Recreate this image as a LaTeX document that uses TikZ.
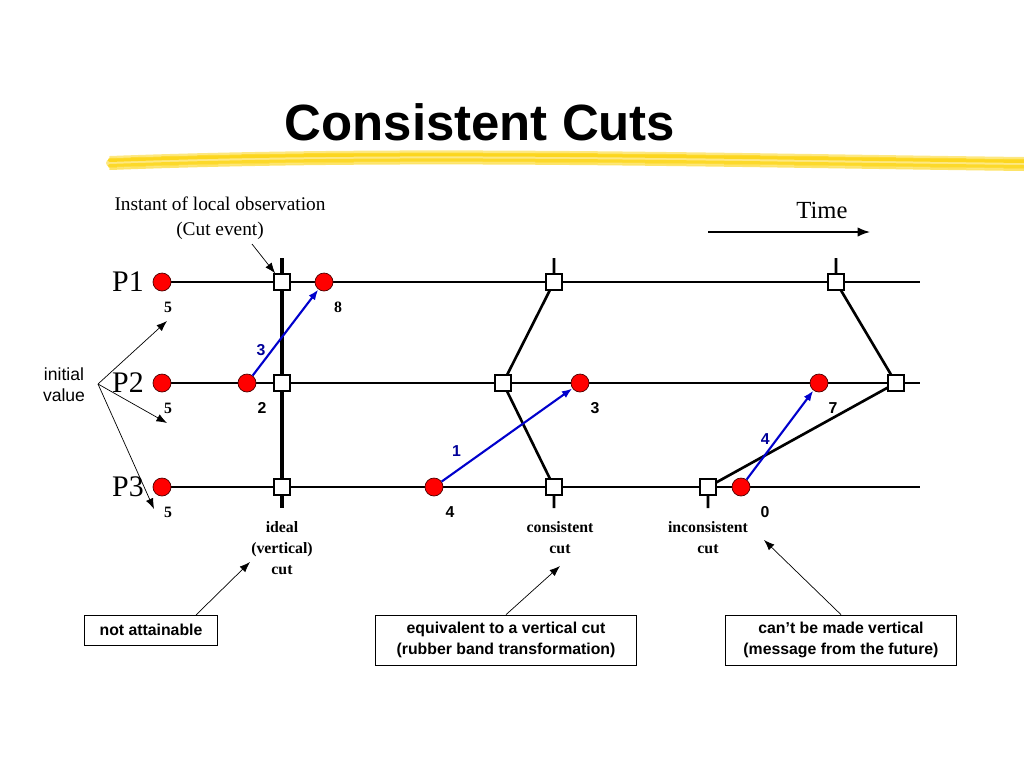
\documentclass[tikz,border=0pt]{standalone}
\usepackage{fontspec}
\setmainfont{Liberation Serif}
\setsansfont{Liberation Sans}
\usetikzlibrary{arrows.meta}
\tikzset{
  event/.style={circle,draw=black!70!red,fill=red,inner sep=0pt,minimum size=18\pxu},
  cutbox/.style={rectangle,draw,thick,fill=white,inner sep=0pt,minimum size=16\pxu},
  num/.style={font=\bfseries\fontsize{9}{10}\selectfont},
  snum/.style={font=\sffamily\bfseries\fontsize{9}{10}\selectfont},
  msg/.style={line width=1.2pt,blue!80!black,-{Latex[length=6pt]}},
  note/.style={draw,font=\sffamily\bfseries\fontsize{9}{12}\selectfont,align=center,inner sep=4pt},
  caption/.style={font=\bfseries\fontsize{9}{12}\selectfont,align=center},
  pointer/.style={-{Latex[length=6pt]}},
}
\newcommand{\pxu}{*0.02cm}
\begin{document}
\begin{tikzpicture}[x=0.02cm,y=-0.02cm]
        \useasboundingbox (0,0) rectangle (1024,768);
        % title and brush stroke
        \node[font=\sffamily\bfseries\fontsize{29}{32}\selectfont] (title) at (480,122) {Consistent Cuts};
        \foreach \dy/\w/\op in {0/8/0.5,-3/4/0.8,3/4/0.7,6/2/0.6,-6/2/0.5}
          \draw[yellow!70!orange,line width=\w\pxu,opacity=\op,line cap=round] (110,{163+\dy}) .. controls (400,{152+\dy}) and (700,{160+\dy}) .. (1024,{164+\dy});
        % processes
        \foreach \y/\p in {282/1,383/2,487/3} {
          \node[font=\fontsize{17}{18}\selectfont] (P\p) at (128,\y) {P\p};
          \draw[thick] (162,\y) -- (920,\y);
        }
        % cuts
        \draw[line width=2pt] (282,258) -- (282,508);
        \draw[line width=1.5pt] (554,258) -- (554,282) -- (503,383) -- (554,487) -- (554,508);
        \draw[line width=1.5pt] (836,258) -- (836,282) -- (896,383) -- (708,487) -- (708,508);
        % events
        \node[event] (a0) at (162,282) {};
        \node[event] (a1) at (324,282) {};
        \node[event] (b0) at (162,383) {};
        \node[event] (b1) at (247,383) {};
        \node[event] (b2) at (580,383) {};
        \node[event] (b3) at (819,383) {};
        \node[event] (c0) at (162,487) {};
        \node[event] (c1) at (434,487) {};
        \node[event] (c2) at (741,487) {};
        \foreach \x/\y/\n in {282/282/p1,554/282/p2,836/282/p3,282/383/q1,503/383/q2,896/383/q3,282/487/r1,554/487/r2,708/487/r3}
          \node[cutbox] (\n) at (\x,\y) {};
        % values
        \foreach \x/\y/\v in {168/307/5,338/307/8,168/408/5,168/512/5}
          \node[num] at (\x,\y) {\v};
        \foreach \x/\y/\v in {262/408/2,595/408/3,833/408/7,450/512/4,765/512/0}
          \node[snum] at (\x,\y) {\v};
        % messages
        \draw[msg] (b1) -- (a1) node[pos=0.3,left,snum,text=blue!60!black] {3};
        \draw[msg] (c1) -- (b2) node[pos=0.2,above left,snum,text=blue!60!black] {1};
        \draw[msg] (c2) -- (b3) node[pos=0.45,left,snum,text=blue!60!black] {4};
        % annotations
        \node[font=\sffamily\fontsize{10}{12}\selectfont,align=center] (init) at (64,385) {initial\\value};
        \coordinate (apex) at (98,384);
        \draw[pointer] (apex) -- (167,321);
        \draw[pointer] (apex) -- (167,423);
        \draw[pointer] (apex) -- (154,509);
        \node[font=\fontsize{11}{14}\selectfont,align=center] (instant) at (220,218) {Instant of local observation\\(Cut event)};
        \draw[pointer] (252,244) -- (p1);
        \node[font=\fontsize{14}{16}\selectfont] (time) at (822,210) {Time};
        \draw[thick,-{Latex[length=7pt]}] (708,232) -- (870,232);
        \node[caption] (ideal) at (282,548) {ideal\\(vertical)\\cut};
        \node[caption] (cons) at (560,538) {consistent\\cut};
        \node[caption] (incons) at (708,538) {inconsistent\\cut};
        \node[note,minimum width=133\pxu,minimum height=30\pxu] (na) at (151,630) {not attainable};
        \node[note,minimum width=261\pxu,minimum height=50\pxu] (eq) at (506,640) {equivalent to a vertical cut\\(rubber band transformation)};
        \node[note,minimum width=231\pxu,minimum height=50\pxu] (cant) at (841,640) {can’t be made vertical\\(message from the future)};
        \coordinate (naTop) at (196,615);
        \coordinate (idealTip) at (250,562);
        \draw[pointer] (naTop) -- (idealTip);
        \draw[pointer] (eq.north) -- (560,566);
        \draw[pointer] (cant.north) -- (764,540);
\end{tikzpicture}
\end{document}
